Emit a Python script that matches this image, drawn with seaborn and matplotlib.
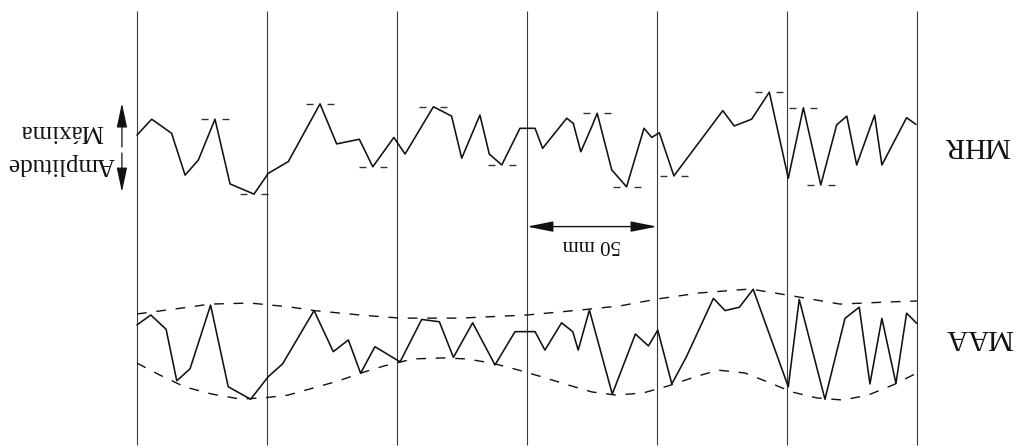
import numpy as np
import pandas as pd
import matplotlib
matplotlib.use("Agg")
import matplotlib.pyplot as plt
import seaborn as sns

# Time axis in mm along the paper strip; amplitudes in mm.
mhr_t = [0.0, 5.65, 13.3, 18.5, 23.6, 30.0, 35.8, 45.0, 50.5, 58.2, 70.4, 76.8, 85.5,
         90.7, 98.8, 103.1, 114.0, 121.0, 124.9, 131.9, 135.5, 140.3, 147.3, 153.1,
         156.0, 165.3, 167.8, 170.7, 174.9, 177.0, 182.6, 188.3, 195.0, 198.0, 200.9,
         206.5, 225.3, 229.7, 236.4, 243.2, 250.5, 256.3, 263.0, 269.1, 273.0, 276.8,
         283.7, 286.5, 296.0, 299.6]
mhr_y = [34.2, 40.3, 34.9, 18.8, 24.6, 40.3, 15.4, 11.5, 19.5, 24.0, 46.2, 30.8, 32.6,
         22.0, 33.3, 26.9, 45.1, 41.5, 25.3, 41.9, 26.9, 22.7, 36.8, 36.8,
         29.1, 40.7, 38.7, 27.8, 37.4, 42.6, 20.8, 14.3, 36.8, 33.3, 35.1,
         18.5, 43.6, 37.7, 40.3, 50.7, 17.6, 44.7, 15.0, 38.1, 41.5, 22.7,
         41.9, 22.7, 40.9, 38.3]
# Indices of the MHR extremes flagged with short tick marks
mhr_marked = [5, 7, 10, 13, 16, 21, 29, 31, 35, 39, 41, 42]

maa_t = [0.0, 5.3, 11.2, 15.3, 20.4, 28.3, 35.1, 43.7, 50.5, 56.0, 68.1, 75.5, 81.3,
         86.0, 91.5, 101.2, 109.5, 116.3, 121.7, 129.1, 137.7, 145.4, 153.1, 156.9,
         163.3, 167.6, 169.7, 174.0, 182.8, 191.7, 196.7, 200.3, 205.7, 211.2, 221.7,
         226.2, 231.7, 237.0, 250.5, 254.7, 264.6, 272.3, 277.8, 281.9, 286.5, 291.9,
         296.0, 299.9]
maa_y = [-38.8, -35.0, -40.5, -60.3, -55.7, -31.2, -62.6, -67.4, -58.7, -53.8, -33.3,
         -49.1, -44.6, -57.4, -47.2, -53.0, -36.7, -37.6, -51.3, -38.0, -54.2, -41.4,
         -41.4, -48.5, -38.0, -41.4, -48.5, -33.1, -65.4, -42.3, -46.9, -40.8, -61.5,
         -51.3, -28.6, -33.3, -32.0, -25.1, -62.6, -29.0, -67.4, -36.3, -32.0, -61.5,
         -36.3, -61.3, -34.3, -38.2]

# Upper and lower envelopes of the MAA trace
env_up_t = [0.0, 20.4, 28.1, 43.5, 58.8, 68.1, 85.8, 101.2, 124.2, 150.0, 170.4, 185.8,
            200.4, 216.5, 235.8, 250.0, 270.4, 288.8, 300.0]
env_up_y = [-34.6, -31.9, -30.8, -30.4, -31.9, -33.3, -35.0, -36.2, -36.2, -35.0, -33.1,
            -31.5, -28.8, -26.5, -25.0, -27.3, -30.8, -30.0, -29.6]
env_lo_t = [0.0, 8.8, 18.5, 28.8, 39.6, 48.5, 58.1, 67.7, 77.3, 86.2, 95.0, 106.2, 117.7,
            126.9, 136.5, 145.4, 155.8, 165.8, 175.0, 184.2, 194.6, 204.2, 214.6, 223.5,
            233.8, 242.7, 251.9, 261.5, 271.5, 281.2, 290.8, 300.0]
env_lo_y = [-53.5, -58.1, -62.7, -65.4, -67.3, -66.9, -65.8, -63.1, -60.4, -57.3, -54.6,
            -51.9, -51.5, -51.9, -53.5, -55.8, -58.8, -61.9, -64.6, -65.8, -65.0, -62.3,
            -58.8, -56.2, -57.3, -60.8, -64.6, -66.9, -67.7, -65.8, -61.9, -57.3]

grid_t = [0, 50, 100, 150, 200, 250, 300]
scale_span = (150, 200)          # reference length shown by the dimension arrow
scale_label = "50 mm"
trace_labels = ["MHR", "MAA"]
amp_label = "Amplitude\nMáxima"

sns.set_theme(style="white")
plt.rcParams["font.family"] = ["Liberation Serif", "DejaVu Serif"]

fig = plt.figure(figsize=(10.18, 4.48), dpi=100)
ax = fig.add_axes([0, 0, 1, 1])
ax.set_xlim(-52.69, 338.85)
ax.set_ylim(-86.15, 86.15)
ax.axis("off")

ink = "#111111"

# Chart-paper division lines
ax.vlines(grid_t, -85.0, 82.0, color="#3a3a3a", lw=0.8)

mhr = pd.DataFrame({"t": mhr_t, "y": mhr_y})
maa = pd.DataFrame({"t": maa_t, "y": maa_y})
sns.lineplot(data=mhr, x="t", y="y", ax=ax, color=ink, lw=1.15, estimator=None, sort=False)
sns.lineplot(data=maa, x="t", y="y", ax=ax, color=ink, lw=1.15, estimator=None, sort=False)

for et, ey in ((env_up_t, env_up_y), (env_lo_t, env_lo_y)):
    sns.lineplot(x=et, y=ey, ax=ax, color=ink, lw=1.0, estimator=None, sort=False,
                 dashes=False, linestyle=(0, (7, 7)))

# Short tick marks beside each flagged extreme
for i in mhr_marked:
    t, y = mhr_t[i], mhr_y[i]
    ax.hlines([y, y], [t - 5.4, t + 2.7], [t - 2.7, t + 5.4], color="#333333", lw=1.0)

# Dimension arrow for the 50 mm reference length
ax.annotate("", xy=(scale_span[0], -1.0), xytext=(scale_span[1], -1.0),
            arrowprops=dict(arrowstyle="<|-|>,head_length=0.8,head_width=0.16",
                            mutation_scale=20, color=ink, lw=1.0,
                            shrinkA=0, shrinkB=0))
ax.text(sum(scale_span) / 2, -7.7, scale_label, rotation=180, ha="center",
        va="center", fontsize=15, color=ink)

# Maximum-amplitude indicator
amp_x = -5.8
ax.annotate("", xy=(amp_x, 46.5), xytext=(amp_x, 29.6),
            arrowprops=dict(arrowstyle="-|>,head_length=0.75,head_width=0.16",
                            mutation_scale=20, color=ink, lw=0.9,
                            shrinkA=0, shrinkB=0))
ax.annotate("", xy=(amp_x, 12.3), xytext=(amp_x, 27.3),
            arrowprops=dict(arrowstyle="-|>,head_length=0.75,head_width=0.16",
                            mutation_scale=20, color=ink, lw=0.9,
                            shrinkA=0, shrinkB=0))
ax.text(-29.2, 29.4, amp_label, rotation=180, ha="center", va="center",
        fontsize=18, linespacing=1.6, color=ink, multialignment="center")

ax.text(323.1, 30.4, trace_labels[0], rotation=180, ha="center", va="center",
        fontsize=21, color=ink)
ax.text(323.8, -43.5, trace_labels[1], rotation=180, ha="center", va="center",
        fontsize=21, color=ink)

fig.savefig("out.png", dpi=100, facecolor="white")
